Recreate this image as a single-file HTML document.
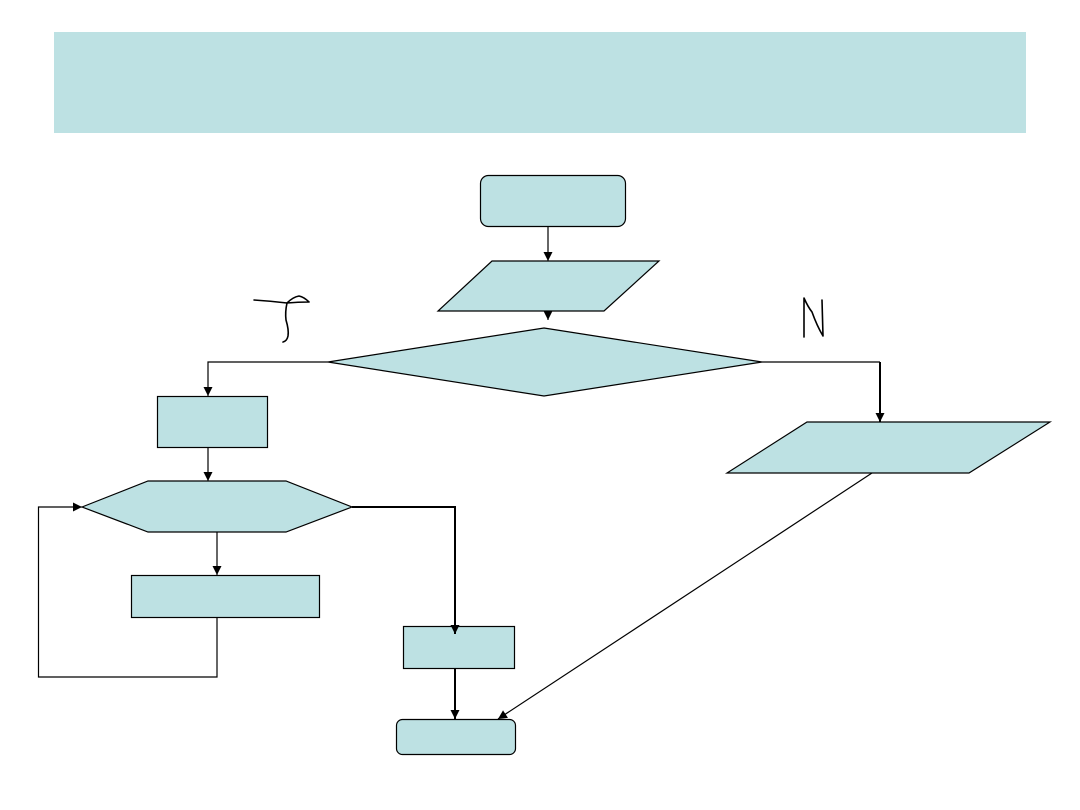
<!DOCTYPE html>
<html>
<head>
<meta charset="utf-8">
<style>
html,body{margin:0;padding:0;background:#fff;}
body{width:1080px;height:810px;overflow:hidden;font-family:"Liberation Sans",sans-serif;}
svg{display:block;}
</style>
</head>
<body>
<svg width="1080" height="810" viewBox="0 0 1080 810" xmlns="http://www.w3.org/2000/svg">
  <defs>
    <marker id="ah" viewBox="0 0 10 10" refX="10" refY="5" markerWidth="9" markerHeight="9" markerUnits="userSpaceOnUse" orient="auto">
      <path d="M0,0 L10,5 L0,10 z" fill="#000"/>
    </marker>
  </defs>
  <!-- header band -->
  <rect x="54" y="32" width="972" height="101" fill="#bde1e3"/>

  <g fill="#bde1e3" stroke="#000" stroke-width="1.2">
    <!-- start -->
    <rect x="480.5" y="175.5" width="145" height="51" rx="8" ry="8"/>
    <!-- input parallelogram -->
    <polygon points="492,261 659,261 604,311 438,311"/>
    <!-- diamond -->
    <polygon points="544,328 762,362 544,396 328,362"/>
    <!-- left box -->
    <rect x="157.5" y="396.5" width="110" height="51"/>
    <!-- hexagon -->
    <polygon points="82,507 148,481 286,481 352,507 286,532 148,532"/>
    <!-- loop body box -->
    <rect x="131.5" y="575.5" width="188" height="42"/>
    <!-- box after loop -->
    <rect x="403.5" y="626.5" width="111" height="42"/>
    <!-- end -->
    <rect x="396.5" y="719.5" width="119" height="35" rx="6" ry="6"/>
    <!-- right parallelogram -->
    <polygon points="807,422 1050,422 969,473 727,473"/>
  </g>

  <g fill="none" stroke="#000" stroke-width="1.2">
    <!-- start -> input -->
    <line x1="548" y1="226" x2="548" y2="261" marker-end="url(#ah)"/>
    <!-- input -> diamond -->
    <line x1="548" y1="311" x2="548" y2="320" marker-end="url(#ah)"/>
    <!-- diamond left -> left box -->
    <polyline points="328,362 208,362 208,396" marker-end="url(#ah)"/>
    <!-- left box -> hexagon -->
    <line x1="208" y1="447" x2="208" y2="481" marker-end="url(#ah)"/>
    <!-- hexagon -> loop body -->
    <line x1="217" y1="532" x2="217" y2="575" marker-end="url(#ah)"/>
    <!-- loop back -->
    <polyline points="217,617 217,677 38.5,677 38.5,507 82,507" marker-end="url(#ah)"/>
    <!-- diagonal from right parallelogram to end -->
    <line x1="872" y1="473" x2="498" y2="719" marker-end="url(#ah)"/>
    <!-- diamond right line -->
    <polyline points="762,362 880,362"/>
  </g>
  <g fill="none" stroke="#000" stroke-width="2">
    <line x1="880" y1="362" x2="880" y2="422" marker-end="url(#ah)"/>
    <!-- hexagon right -> box -->
    <polyline points="352,507 455,507 455,634" marker-end="url(#ah)"/>
    <!-- box -> end -->
    <line x1="455" y1="668" x2="455" y2="719" marker-end="url(#ah)"/>
  </g>

  <!-- handwritten T -->
  <g fill="none" stroke="#000" stroke-width="1.6" stroke-linecap="round" stroke-linejoin="round">
    <path d="M254,300 Q270,301 287,303 Q293,297 299,296 Q304,297 309,302 Q298,302 287,303"/>
    <path d="M287,303 Q285,312 286,320 Q289,330 288,336 Q287,341 283,342"/>
    <!-- handwritten N -->
    <path d="M804,337 L804,298 Q808,307 812,312 Q817,326 823,336 L822,300"/>
  </g>
</svg>
</body>
</html>
